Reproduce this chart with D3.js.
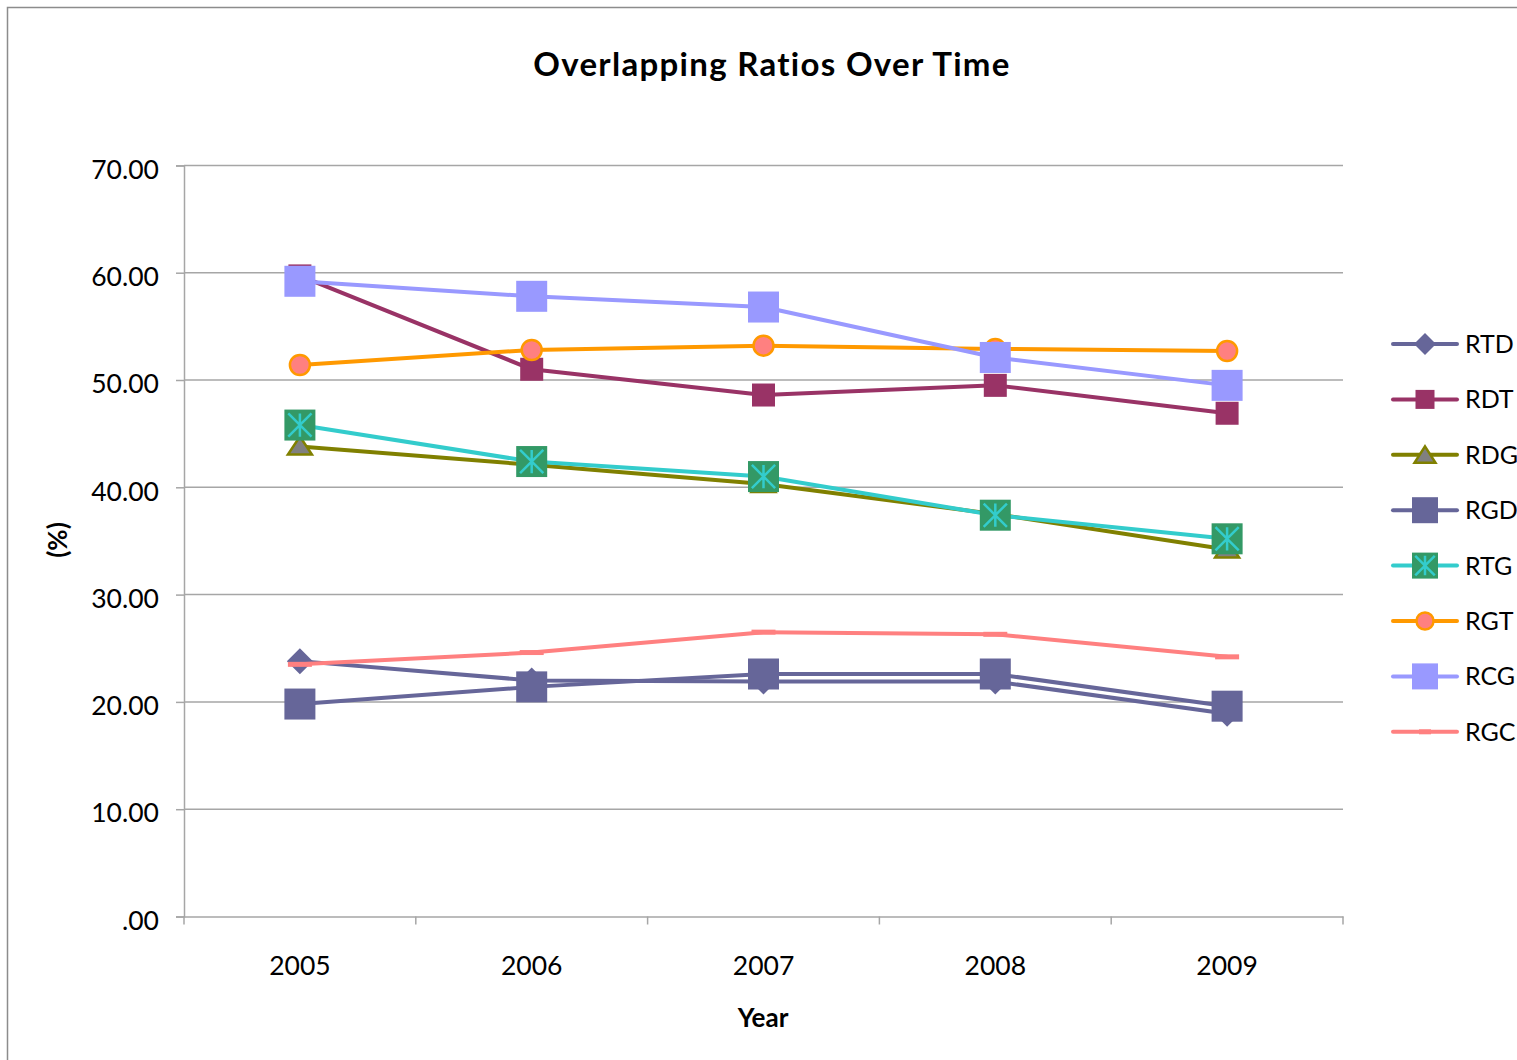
<!DOCTYPE html>
<html>
<head>
<meta charset="utf-8">
<script src="https://cdn.jsdelivr.net/npm/d3@7/dist/d3.min.js"></script>
<style>
  html, body { margin: 0; padding: 0; background: #fff; }
  svg { display: block; font-family: Lato, "Open Sans", sans-serif; }
</style>
</head>
<body>
<svg id="chart" width="1517" height="1060"></svg>
<script>
// Years on the category axis
const years = ["2005", "2006", "2007", "2008", "2009"];

// Overlapping ratios (%) per series
const RTD = [23.8, 22.0, 21.9, 21.9, 18.9];
const RDT = [59.7, 51.0, 48.6, 49.5, 46.9];
const RDG = [43.8, 42.1, 40.3, 37.5, 34.2];
const RGD = [19.8, 21.4, 22.6, 22.6, 19.6];
const RTG = [45.8, 42.4, 41.0, 37.4, 35.2];
const RGT = [51.4, 52.8, 53.2, 52.9, 52.7];
const RCG = [59.2, 57.8, 56.8, 52.1, 49.5];
const RGC = [23.5, 24.6, 26.5, 26.3, 24.2];

// Value axis ticks
const yTicks = [0, 10, 20, 30, 40, 50, 60, 70];

const series = [
  { name: "RTD", values: RTD, line: "#666699", marker: "diamond", fill: "#666699", stroke: "none", size: 13 },
  { name: "RDT", values: RDT, line: "#993366", marker: "square", fill: "#993366", stroke: "none", size: 11.5 },
  { name: "RDG", values: RDG, line: "#808000", marker: "triangle", fill: "#808080", stroke: "#808000", size: 12 },
  { name: "RGD", values: RGD, line: "#666699", marker: "square", fill: "#666699", stroke: "none", size: 15.5 },
  { name: "RTG", values: RTG, line: "#33CCCC", marker: "starbox", fill: "#339966", stroke: "#33CCCC", size: 15.5 },
  { name: "RGT", values: RGT, line: "#FF9900", marker: "circle", fill: "#FF8080", stroke: "#FF9900", size: 11 },
  { name: "RCG", values: RCG, line: "#9999FF", marker: "square", fill: "#9999FF", stroke: "none", size: 15.5 },
  { name: "RGC", values: RGC, line: "#FF8080", marker: "dash", fill: "#FF8080", stroke: "none", size: 12 }
];

const svg = d3.select("#chart");

// Chart frame (left and top edges)
svg.append("path")
  .attr("d", "M7.5,1060 V7.5 H1517")
  .attr("fill", "none").attr("stroke", "#8c8c8c").attr("stroke-width", 1.5);

const plot = { left: 184, right: 1343, top: 165.4, bottom: 916.5 };

const x = d3.scaleBand().domain(years).range([plot.left, plot.right]);
const y = d3.scaleLinear().domain([0, 70]).range([plot.bottom, plot.top]);
const cx = d => x(d) + x.bandwidth() / 2;

// Title
svg.append("text")
  .attr("x", 772).attr("y", 76)
  .attr("text-anchor", "middle")
  .attr("font-size", 33).attr("font-weight", "bold")
  .attr("letter-spacing", 1.3)
  .attr("fill", "#000")
  .text("Overlapping Ratios Over Time");

// Horizontal gridlines
svg.append("g")
  .selectAll("line")
  .data(yTicks.filter(t => t > 0))
  .join("line")
  .attr("x1", plot.left).attr("x2", plot.right)
  .attr("y1", d => y(d)).attr("y2", d => y(d))
  .attr("stroke", "#a6a6a6").attr("stroke-width", 1.5);

// Value axis
const yAxis = d3.axisLeft(y)
  .tickValues(yTicks)
  .tickSize(8)
  .tickPadding(17)
  .tickFormat(d => d === 0 ? ".00" : d3.format(".2f")(d));
const gy = svg.append("g").attr("transform", `translate(${plot.left},0)`).call(yAxis);
gy.select(".domain").attr("stroke", "#a6a6a6").attr("stroke-width", 1.5);
gy.selectAll(".tick line").attr("stroke", "#a6a6a6").attr("stroke-width", 1.5);
gy.selectAll(".tick text")
  .attr("font-family", "Lato, 'Open Sans', sans-serif")
  .attr("font-size", 26.5).attr("fill", "#000").attr("dy", "0.48em");

// Category axis
const xAxis = d3.axisBottom(x).tickSize(0).tickPadding(55);
const gx = svg.append("g").attr("transform", `translate(0,${plot.bottom})`).call(xAxis);
gx.select(".domain").attr("stroke", "#a6a6a6").attr("stroke-width", 1.5);
gx.selectAll(".tick text")
  .attr("font-family", "Lato, 'Open Sans', sans-serif")
  .attr("font-size", 26.5).attr("fill", "#000").attr("dy", "0.15em");
// tick marks between categories
const bounds = years.map(d => x(d)).concat([plot.right]);
svg.append("g").selectAll("line")
  .data(bounds)
  .join("line")
  .attr("x1", d => d).attr("x2", d => d)
  .attr("y1", plot.bottom).attr("y2", plot.bottom + 8)
  .attr("stroke", "#a6a6a6").attr("stroke-width", 1.5);

// Axis titles
svg.append("text")
  .attr("x", 763).attr("y", 1027)
  .attr("text-anchor", "middle")
  .attr("font-size", 26).attr("font-weight", "bold")
  .text("Year");
svg.append("text")
  .attr("transform", "translate(67,540) rotate(-90)")
  .attr("text-anchor", "middle")
  .attr("font-size", 26).attr("font-weight", "bold")
  .text("(%)");

// Marker drawing
function drawMarker(g, s, px, py) {
  const r = s.size;
  if (s.marker === "diamond") {
    g.append("path")
      .attr("d", `M${px},${py - r} L${px + r},${py} L${px},${py + r} L${px - r},${py} Z`)
      .attr("fill", s.fill);
  } else if (s.marker === "square") {
    g.append("rect")
      .attr("x", px - r).attr("y", py - r).attr("width", 2 * r).attr("height", 2 * r)
      .attr("fill", s.fill);
  } else if (s.marker === "triangle") {
    g.append("path")
      .attr("d", `M${px},${py - r + 2} L${px + r},${py + 8} L${px - r},${py + 8} Z`)
      .attr("fill", s.fill).attr("stroke", s.stroke).attr("stroke-width", 2.5)
      .attr("stroke-linejoin", "miter");
  } else if (s.marker === "starbox") {
    g.append("rect")
      .attr("x", px - r).attr("y", py - r).attr("width", 2 * r).attr("height", 2 * r)
      .attr("fill", s.fill);
    const a = r * 0.75;
    g.append("path")
      .attr("d", `M${px},${py - a} V${py + a} M${px - a},${py - a} L${px + a},${py + a} M${px + a},${py - a} L${px - a},${py + a}`)
      .attr("stroke", s.stroke).attr("stroke-width", 2.5).attr("fill", "none");
  } else if (s.marker === "circle") {
    g.append("circle")
      .attr("cx", px).attr("cy", py).attr("r", r - 1)
      .attr("fill", s.fill).attr("stroke", s.stroke).attr("stroke-width", 2.5);
  } else if (s.marker === "dash") {
    g.append("rect")
      .attr("x", px - r).attr("y", py - 2.5).attr("width", 2 * r).attr("height", 5)
      .attr("fill", s.fill);
  }
}

const line = d3.line()
  .x((d, i) => cx(years[i]))
  .y(d => y(d));

// Series: line then markers, drawn in series order
series.forEach(s => {
  const g = svg.append("g");
  g.append("path")
    .attr("d", line(s.values))
    .attr("fill", "none")
    .attr("stroke", s.line).attr("stroke-width", 4)
    .attr("stroke-linejoin", "round").attr("stroke-linecap", "round");
  s.values.forEach((v, i) => drawMarker(g, s, cx(years[i]), y(v)));
});

// Legend
const legend = svg.append("g");
series.forEach((s, i) => {
  const ly = 344 + i * 55.4;
  const g = legend.append("g");
  g.append("line")
    .attr("x1", 1393).attr("x2", 1457).attr("y1", ly).attr("y2", ly)
    .attr("stroke", s.line).attr("stroke-width", 4).attr("stroke-linecap", "round");
  const ms = Object.assign({}, s, { size: s.marker === "dash" ? 6 : Math.min(s.size, 13) });
  if (s.marker === "diamond") ms.size = 11;
  if (s.marker === "square" && s.size < 13) ms.size = 9.5;
  if (s.marker === "circle") ms.size = 9.5;
  if (s.marker === "triangle") ms.size = 10.5;
  drawMarker(g, ms, 1425, ly);
  g.append("text")
    .attr("x", 1465).attr("y", ly + 9)
    .attr("font-size", 25)
    .text(s.name);
});
</script>
</body>
</html>
